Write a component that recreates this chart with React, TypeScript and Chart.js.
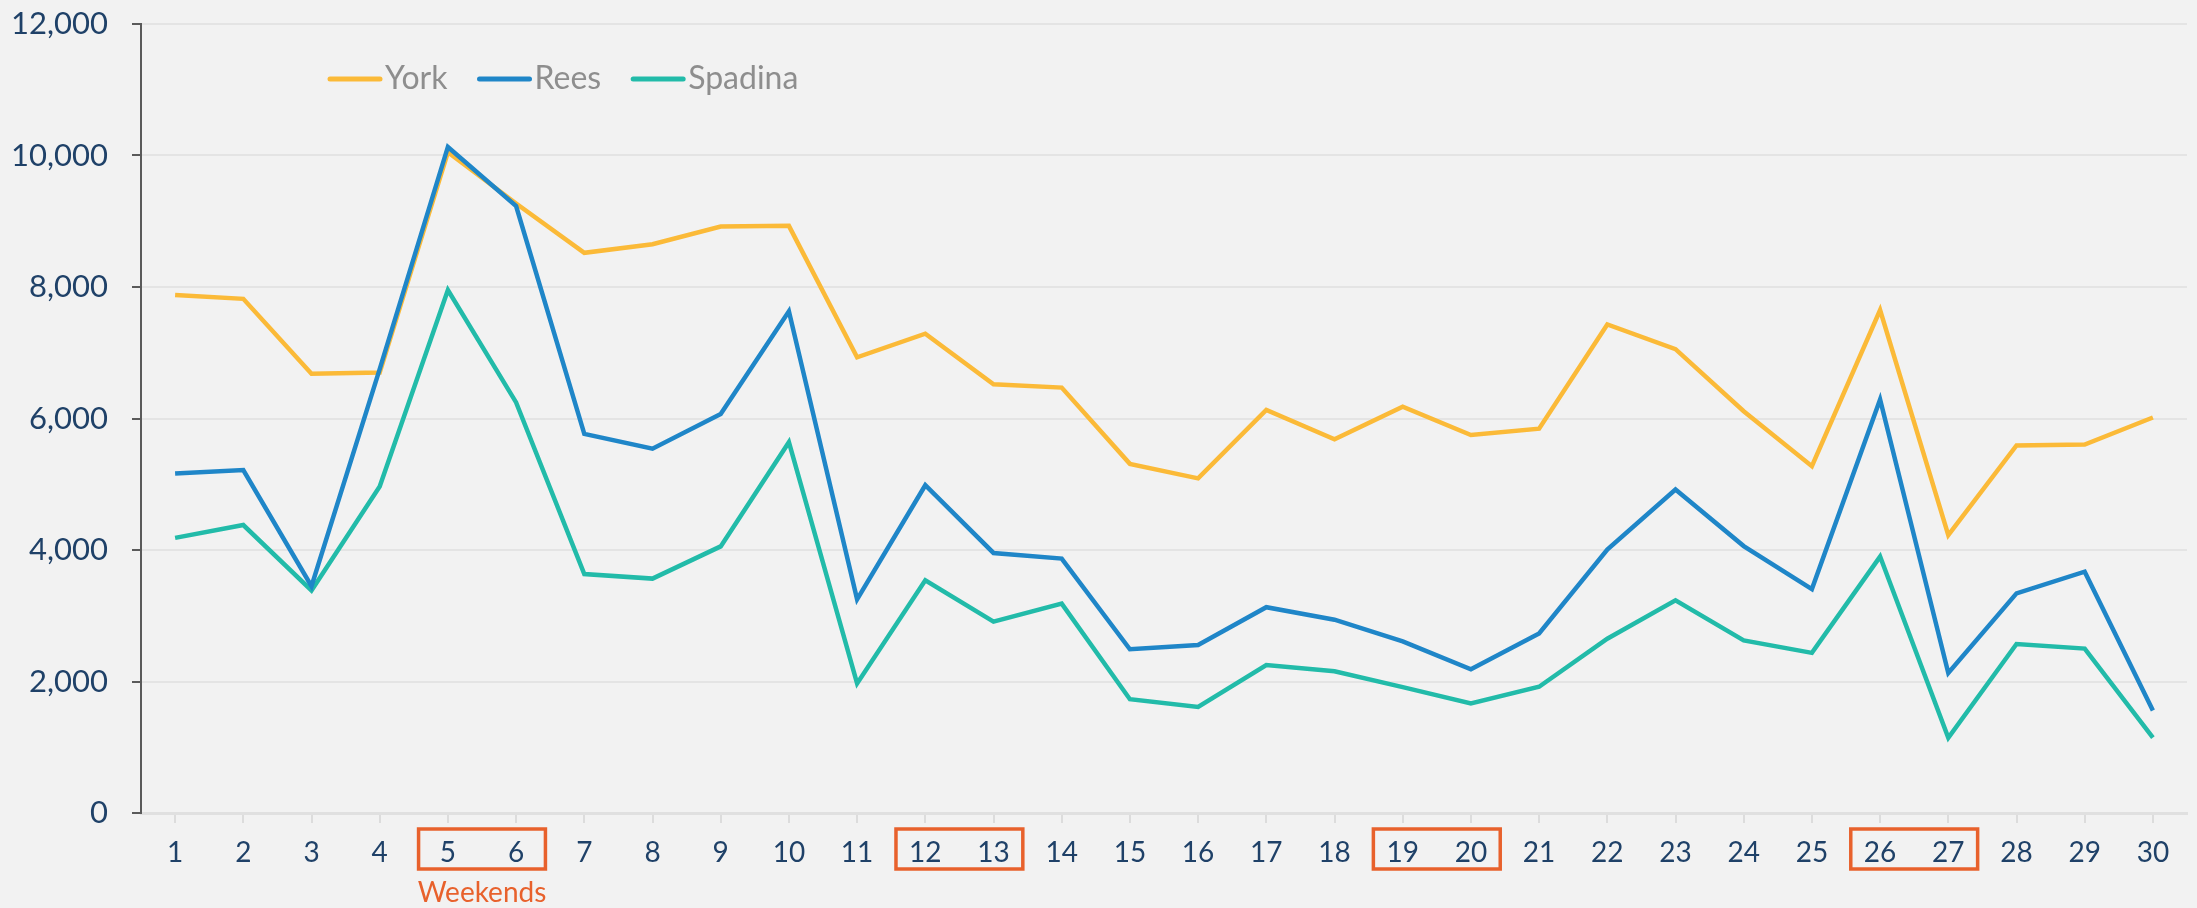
import React, { useEffect, useRef } from "react";
import { Chart, registerables } from "chart.js";

Chart.register(...registerables);

const DAYS = ["1","2","3","4","5","6","7","8","9","10","11","12","13","14","15","16","17","18","19","20","21","22","23","24","25","26","27","28","29","30"];

const YORK = [7880, 7820, 6680, 6700, 10050, 9270, 8520, 8650, 8920, 8930, 6930, 7290, 6520, 6470, 5310, 5090, 6130, 5685, 6180, 5748, 5845, 7430, 7055, 6110, 5275, 7650, 4225, 5590, 5605, 6015];
const REES = [5165, 5215, 3450, 6750, 10130, 9230, 5765, 5540, 6070, 7630, 3250, 4985, 3955, 3870, 2490, 2555, 3130, 2940, 2610, 2185, 2730, 4005, 4920, 4060, 3405, 6290, 2130, 3340, 3670, 1560];
const SPADINA = [4185, 4380, 3385, 4965, 7955, 6245, 3635, 3565, 4055, 5640, 1970, 3540, 2910, 3185, 1730, 1612, 2250, 2155, 1915, 1665, 1920, 2650, 3235, 2625, 2435, 3900, 1145, 2570, 2500, 1145];

const SERIES_LABELS = ["York", "Rees", "Spadina"];
const SERIES_COLORS = ["#FBBA38", "#1F86C8", "#22BBA9"];

const Y_TICK_STEP = 2000;
const Y_MAX = 12000;

const WEEKEND_PAIRS = [["5", "6"], ["12", "13"], ["19", "20"], ["26", "27"]];
const WEEKEND_LABEL = "Weekends";

const FONT = "Lato, 'Open Sans', sans-serif";
const NAVY = "#1F4168";
const ORANGE = "#E8612C";

const bgPlugin = {
  id: "bg",
  beforeDraw(chart: any) {
    const ctx = chart.ctx;
    ctx.save();
    ctx.fillStyle = "#F2F2F2";
    ctx.fillRect(0, 0, chart.width, chart.height);
    ctx.restore();
  },
};

const legendPlugin = {
  id: "customLegend",
  afterDraw(chart: any) {
    const ctx = chart.ctx;
    ctx.save();
    ctx.font = `32px ${FONT}`;
    ctx.textBaseline = "middle";
    ctx.textAlign = "left";
    let x = 328;
    const y = 79;
    chart.data.datasets.forEach((ds: any) => {
      ctx.strokeStyle = ds.borderColor;
      ctx.lineWidth = 5;
      ctx.lineCap = "round";
      ctx.beginPath();
      ctx.moveTo(x + 2, y);
      ctx.lineTo(x + 52, y);
      ctx.stroke();
      ctx.fillStyle = "#8E8E8E";
      ctx.fillText(ds.label, x + 57, y);
      x = x + 57 + ctx.measureText(ds.label).width + 30;
    });
    ctx.restore();
  },
};

const weekendPlugin = {
  id: "weekends",
  afterDraw(chart: any) {
    const ctx = chart.ctx;
    const xs = chart.scales.x;
    const axisY = chart.chartArea.bottom;
    const spacing = xs.getPixelForValue(1) - xs.getPixelForValue(0);
    ctx.save();
    ctx.strokeStyle = ORANGE;
    ctx.lineWidth = 3.5;
    WEEKEND_PAIRS.forEach((pair, i) => {
      const pa = xs.getPixelForValue(DAYS.indexOf(pair[0]));
      const pb = xs.getPixelForValue(DAYS.indexOf(pair[1]));
      const left = pa - 0.43 * spacing;
      const right = pb + 0.43 * spacing;
      ctx.strokeRect(left, axisY + 16, right - left, 40);
      if (i === 0) {
        ctx.fillStyle = ORANGE;
        ctx.font = `28px ${FONT}`;
        ctx.textAlign = "center";
        ctx.textBaseline = "middle";
        ctx.fillText(WEEKEND_LABEL, (left + right) / 2, axisY + 80);
      }
    });
    ctx.restore();
  },
};

export default function App() {
  const ref = useRef<HTMLCanvasElement | null>(null);
  useEffect(() => {
    if (!ref.current) return;
    const seriesValues = [YORK, REES, SPADINA];
    const orders = [3, 1, 2];
    const chart = new Chart(ref.current, {
      type: "line",
      data: {
        labels: DAYS,
        datasets: SERIES_LABELS.map((label, i) => ({
          label,
          data: seriesValues[i],
          borderColor: SERIES_COLORS[i],
          backgroundColor: SERIES_COLORS[i],
          borderWidth: 4.5,
          pointRadius: 0,
          tension: 0,
          fill: false,
          order: orders[i],
        })),
      },
      options: {
        responsive: false,
        devicePixelRatio: 1,
        animation: false,
        layout: { padding: { top: 24, right: 10, left: 0, bottom: 0 } },
        plugins: { legend: { display: false }, tooltip: { enabled: false } },
        scales: {
          x: {
            offset: true,
            grid: {
              drawOnChartArea: false,
              drawTicks: true,
              tickLength: 10,
              color: "#DCDCDC",
              lineWidth: 2,
            },
            border: { display: true, color: "#E0E0E0", width: 3 },
            ticks: {
              color: NAVY,
              font: { family: FONT, size: 28 },
              padding: 13,
              maxRotation: 0,
              autoSkip: false,
            },
            afterFit(scale: any) {
              scale.height = 95;
              scale.paddingLeft = 0;
              scale.paddingRight = 0;
            },
          },
          y: {
            min: 0,
            max: Y_MAX,
            ticks: {
              stepSize: Y_TICK_STEP,
              color: NAVY,
              font: { family: FONT, size: 31 },
              padding: 24,
              callback: (v: any) => Number(v).toLocaleString("en-US"),
            },
            grid: {
              color: "#E4E4E4",
              lineWidth: 2,
              tickColor: "#5A5A5A",
              tickLength: 9,
              tickWidth: 2,
            },
            border: { display: true, color: "#5A5A5A", width: 2 },
            afterFit(scale: any) {
              scale.width = 141;
              scale.paddingTop = 0;
              scale.paddingBottom = 0;
            },
          },
        },
      },
      plugins: [bgPlugin, legendPlugin, weekendPlugin],
    });
    return () => chart.destroy();
  }, []);
  return (
    <div style={{ position: "absolute", left: 0, top: 0, width: 2197, height: 908 }}>
      <canvas ref={ref} width={2197} height={908} style={{ display: "block" }} />
    </div>
  );
}
